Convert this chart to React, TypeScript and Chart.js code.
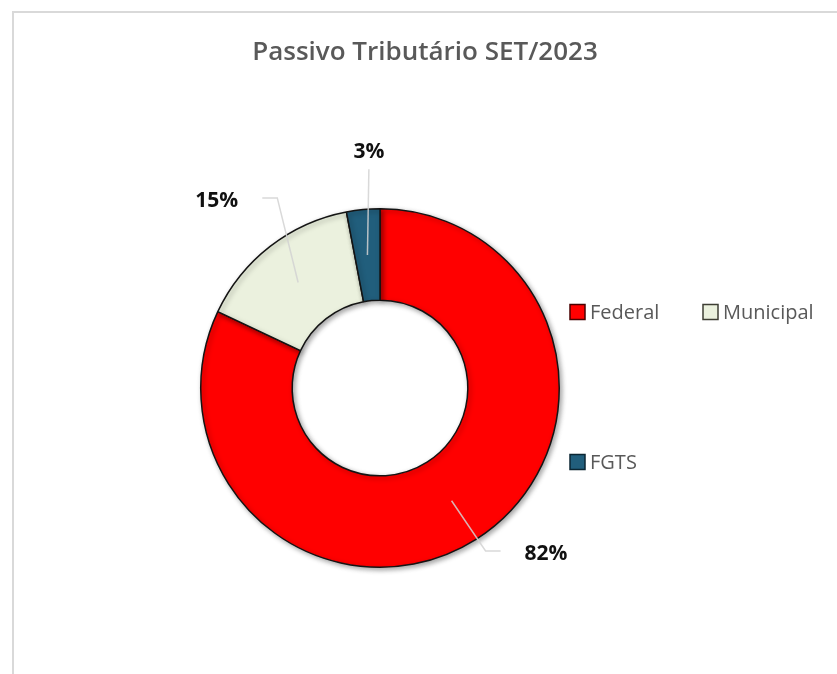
import React, { useEffect, useRef } from "react";
import { Chart, registerables } from "chart.js";

Chart.register(...registerables);

const TITLE = "Passivo Tributário SET/2023";
const categories = ["Federal", "Municipal", "FGTS"];
const values = [82, 15, 3];
const percentLabels = ["82%", "15%", "3%"];
const colors = ["#FF0000", "#EBF1DE", "#215E7C"];
const legendEdge = ["#4a0000", "#3e3e34", "#0b2633"];
// label placement: angle shift (deg) from slice middle, distance factor of outer radius
const labelAngleShift = [-12.6, -3.3, 2.7];
const labelDistance = [1.31, 1.385, 1.317];

const FONT = "'Open Sans', 'DejaVu Sans', sans-serif";

export default function App() {
  const ref = useRef<HTMLCanvasElement | null>(null);

  useEffect(() => {
    document.body.style.margin = "0";
    const canvas = ref.current;
    if (!canvas) return;

    const framePlugin = {
      id: "frame",
      beforeDraw(chart: any) {
        const ctx = chart.ctx;
        ctx.save();
        ctx.fillStyle = "#ffffff";
        ctx.fillRect(0, 0, chart.width, chart.height);
        ctx.strokeStyle = "#d9d9d9";
        ctx.lineWidth = 2;
        ctx.beginPath();
        ctx.moveTo(13, chart.height + 5);
        ctx.lineTo(13, 12);
        ctx.lineTo(chart.width + 5, 12);
        ctx.stroke();
        ctx.fillStyle = "#595959";
        ctx.font = `600 26px ${FONT}`;
        ctx.textAlign = "center";
        ctx.textBaseline = "middle";
        ctx.fillText(TITLE, 425, 53);
        ctx.restore();
      },
    };

    const shadowPlugin = {
      id: "shadow",
      beforeDatasetsDraw(chart: any) {
        const ctx = chart.ctx;
        ctx.save();
        ctx.shadowColor = "rgba(0,0,0,0.35)";
        ctx.shadowBlur = 5;
        ctx.shadowOffsetX = 2;
        ctx.shadowOffsetY = 2;
      },
      afterDatasetsDraw(chart: any) {
        chart.ctx.restore();
      },
    };

    const labelPlugin = {
      id: "labelsAndLegend",
      afterDatasetsDraw(chart: any) {
        const ctx = chart.ctx;
        const meta = chart.getDatasetMeta(0);
        ctx.save();
        meta.data.forEach((arc: any, i: number) => {
          const { x, y, startAngle, endAngle, innerRadius, outerRadius } = arc.getProps(
            ["x", "y", "startAngle", "endAngle", "innerRadius", "outerRadius"],
            true
          );
          const mid = (startAngle + endAngle) / 2;
          const midR = (innerRadius + outerRadius) / 2;
          const ix = x + Math.cos(mid) * midR;
          const iy = y + Math.sin(mid) * midR;
          const la = mid + (labelAngleShift[i] * Math.PI) / 180;
          const lr = outerRadius * labelDistance[i];
          const lx = x + Math.cos(la) * lr;
          const ly = y + Math.sin(la) * lr;

          ctx.font = `bold 21px ${FONT}`;
          const w = ctx.measureText(percentLabels[i]).width;

          ctx.strokeStyle = "rgba(210,210,210,0.85)";
          ctx.lineWidth = 1.5;
          ctx.beginPath();
          if (Math.abs(lx - ix) < 20) {
            ctx.moveTo(lx, ly + 17);
            ctx.lineTo(ix, iy);
          } else {
            const sgn = Math.sign(lx - x);
            const edge = lx - sgn * (w / 2 + 24);
            const elbow = edge - sgn * 15;
            ctx.moveTo(edge, ly - 3);
            ctx.lineTo(elbow, ly - 3);
            ctx.lineTo(ix, iy);
          }
          ctx.stroke();

          ctx.fillStyle = "#111111";
          ctx.textAlign = "center";
          ctx.textBaseline = "middle";
          ctx.fillText(percentLabels[i], lx, ly);
        });

        // legend
        const area = chart.chartArea;
        const cy = (area.top + area.bottom) / 2;
        const lx0 = area.right + 10;
        const positions = [
          [lx0, cy - 76],
          [lx0 + 133, cy - 76],
          [lx0, cy + 74],
        ];
        ctx.font = `normal 20px ${FONT}`;
        ctx.textAlign = "left";
        ctx.textBaseline = "middle";
        categories.forEach((name, i) => {
          const [bx, by] = positions[i];
          ctx.fillStyle = colors[i];
          ctx.fillRect(bx, by - 7.5, 15, 15);
          ctx.strokeStyle = legendEdge[i];
          ctx.lineWidth = 1.5;
          ctx.strokeRect(bx, by - 7.5, 15, 15);
          ctx.fillStyle = "#595959";
          ctx.fillText(name, bx + 20, by + 1);
        });
        ctx.restore();
      },
    };

    const chart = new Chart(canvas, {
      type: "doughnut",
      data: {
        labels: categories,
        datasets: [
          {
            data: values,
            backgroundColor: colors,
            borderColor: "#141414",
            borderWidth: 1.5,
          },
        ],
      },
      options: {
        animation: false,
        responsive: false,
        cutout: "49%",
        rotation: 0,
        layout: { padding: { left: 200, top: 208, right: 277, bottom: 106 } },
        plugins: {
          legend: { display: false },
          title: { display: false },
          tooltip: { enabled: false },
        },
      },
      plugins: [framePlugin, shadowPlugin, labelPlugin],
    });

    return () => chart.destroy();
  }, []);

  return (
    <div style={{ width: 837, height: 674 }}>
      <canvas ref={ref} width={837} height={674} style={{ display: "block", width: 837, height: 674 }} />
    </div>
  );
}
